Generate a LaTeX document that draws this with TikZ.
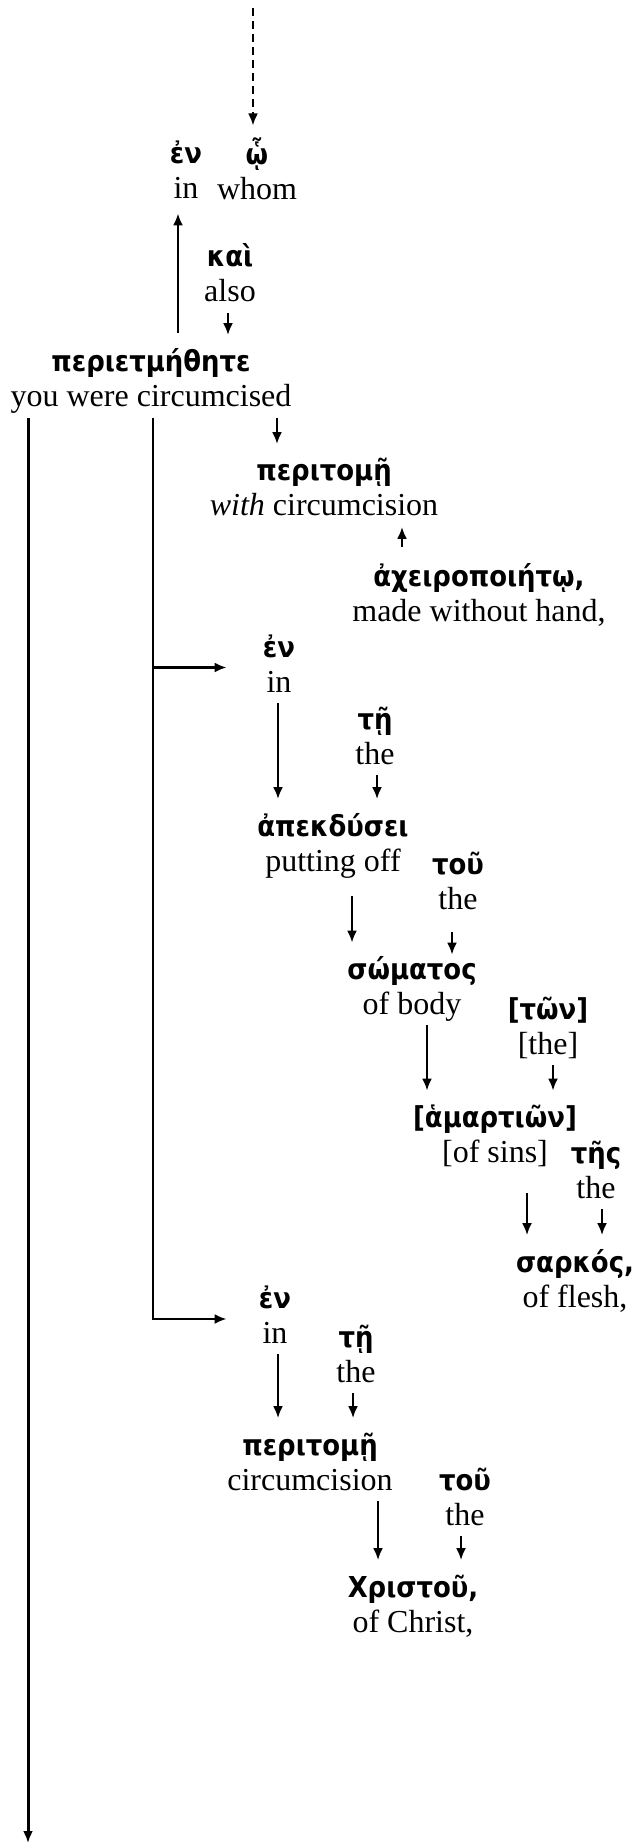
\documentclass[tikz,border=0pt]{standalone}
\usepackage{fontspec}
\setmainfont{Liberation Serif}
\newfontfamily\gk[Scale=0.9]{DejaVu Sans Condensed}
\usetikzlibrary{arrows.meta}
\newcommand\gr[1]{{\gk\bfseries #1}}
\newcommand\wrd[2]{\gr{#1}\strut\\{}#2\strut}
\begin{document}
\begin{tikzpicture}[x=0.5pt, y=-0.5pt,
  wd/.style={align=center, inner sep=0pt, font=\fontsize{16}{17.5}\selectfont},
  tip/.style={-{Latex[length=6pt,width=5pt]}, line width=1.1pt},
  arr/.style={tip, shorten >=6pt},
  uparr/.style={tip, shorten <=7pt}
]
\useasboundingbox (0,0) rectangle (635,1845);
% words
\node[wd] (en1) at (186,174) {\wrd{ἐν}{in}};
\node[wd] (ho) at (257,174) {\wrd{ᾧ}{whom}};
\node[wd] (kai) at (230,277.5) {\wrd{καὶ}{also}};
\node[wd] (peri) at (151,382.5) {\wrd{περιετμήθητε}{you were circumcised}};
\node[wd] (pt1) at (324,491.5) {\wrd{περιτομῇ}{\textit{with} circumcision}};
\node[wd] (ach) at (479,596.5) {\wrd{ἀχειροποιήτῳ,}{made without hand,}};
\node[wd] (en2) at (279,667.5) {\wrd{ἐν}{in}};
\node[wd] (te1) at (375,740) {\wrd{τῇ}{the}};
\node[wd] (apek) at (333,846.5) {\wrd{ἀπεκδύσει}{putting off}};
\node[wd] (tou1) at (458,884.5) {\wrd{τοῦ}{the}};
\node[wd] (som) at (412,990) {\wrd{σώματος}{of body}};
\node[wd] (ton) at (548,1029.5) {\wrd{[τῶν]}{[the]}};
\node[wd] (ham) at (495,1138) {\wrd{[ἁμαρτιῶν]}{[of sins]}};
\node[wd] (tes) at (596,1174) {\wrd{τῆς}{the}};
\node[wd] (sar) at (575,1282.5) {\wrd{σαρκός,}{of flesh,}};
\node[wd] (en3) at (275,1319) {\wrd{ἐν}{in}};
\node[wd] (te2) at (356,1357.5) {\wrd{τῇ}{the}};
\node[wd] (pt2) at (310,1465.5) {\wrd{περιτομῇ}{circumcision}};
\node[wd] (tou2) at (465,1500.5) {\wrd{τοῦ}{the}};
\node[wd] (chr) at (413,1607.5) {\wrd{Χριστοῦ,}{of Christ,}};
\coordinate (src) at (253,8);
\coordinate (sink) at (28,1843);
% connectors
\draw[arr, dash pattern=on 4pt off 2.5pt] (src) -- ([xshift=-2pt]ho.north);
\draw[uparr, shorten >=2pt] ([xshift=13.5pt]peri.north) -- ([xshift=-4pt]en1.south);
\draw[arr] ([xshift=-1pt]kai.south) -- ([xshift=38.5pt]peri.north);
\draw[tip, line width=1.5pt] ([xshift=-61.5pt]peri.south) -- (sink);
\draw[tip] ([xshift=1pt]peri.south) |- ([xshift=-16pt]en3.west);
\draw[tip] ([xshift=-55pt]en2.west) -- ([xshift=-18pt]en2.west);
\draw[arr] ([xshift=63pt]peri.south) -- ([xshift=-23.5pt]pt1.north);
\draw[uparr] ([xshift=-38.5pt]ach.north) -- ([xshift=39pt]pt1.south);
\draw[arr] ([xshift=-0.5pt]en2.south) -- ([xshift=-27.5pt]apek.north);
\draw[arr] ([xshift=1pt]te1.south) -- ([xshift=22pt]apek.north);
\draw[arr, shorten <=7pt] ([xshift=9.5pt]apek.south) -- ([xshift=-30pt]som.north);
\draw[tip, shorten <=6pt] ([xshift=-3pt]tou1.south) -- ([xshift=20pt]som.north);
\draw[arr] ([xshift=7.5pt]som.south) -- ([xshift=-34pt]ham.north);
\draw[arr] ([xshift=2.5pt]ton.south) -- ([xshift=29pt]ham.north);
\draw[arr, shorten <=10pt] ([xshift=16pt]ham.south) -- ([xshift=-24pt]sar.north);
\draw[arr] ([xshift=3pt]tes.south) -- ([xshift=13.5pt]sar.north);
\draw[arr] ([xshift=1.5pt]en3.south) -- ([xshift=-16pt]pt2.north);
\draw[arr] ([xshift=-1.5pt]te2.south) -- ([xshift=21.5pt]pt2.north);
\draw[arr] ([xshift=34pt]pt2.south) -- ([xshift=-17.5pt]chr.north);
\draw[arr] ([xshift=-2pt]tou2.south) -- ([xshift=24pt]chr.north);
\end{tikzpicture}
\end{document}
